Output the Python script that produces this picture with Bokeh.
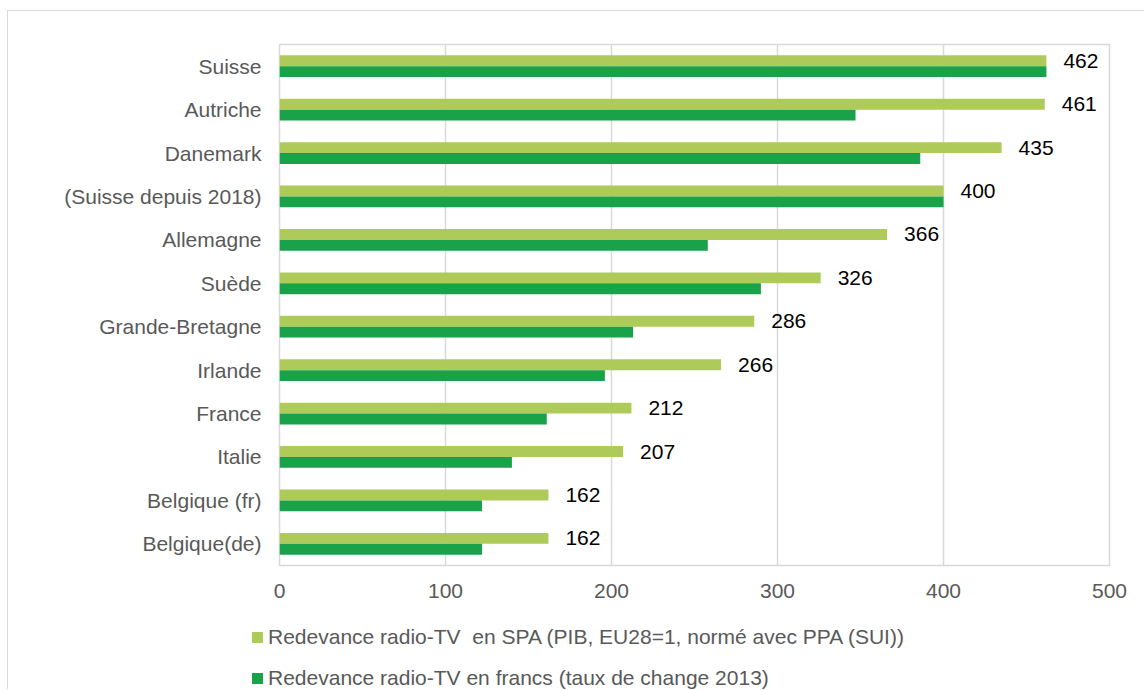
import html
from bokeh.plotting import figure
from bokeh.layouts import column
from bokeh.models import ColumnDataSource, FactorRange, Range1d, FixedTicker, Div
from bokeh.transform import dodge
from bokeh.core.properties import value
from bokeh.embed import file_html
from bokeh.resources import INLINE

countries = ["Suisse", "Autriche", "Danemark", "(Suisse depuis 2018)", "Allemagne", "Suède",
             "Grande-Bretagne", "Irlande", "France", "Italie", "Belgique (fr)", "Belgique(de)"]
spa_values = [462, 461, 435, 400, 366, 326, 286, 266, 212, 207, 162, 162]
chf_values = [462, 347, 386, 400, 258, 290, 213, 196, 161, 140, 122, 122]
x_ticks = [0, 100, 200, 300, 400, 500]
series_names = ["Redevance radio-TV  en SPA (PIB, EU28=1, normé avec PPA (SUI))",
                "Redevance radio-TV en francs (taux de change 2013)"]

LIGHT = "#AECB5A"
DARK = "#19A249"
series_colors = [LIGHT, DARK]
GRAY_TXT = "#595959"
GRID = "#D9D9D9"
FONT = "Liberation Sans"

src = ColumnDataSource(dict(cat=countries, spa=spa_values, chf=chf_values,
                            lbl=[str(v) for v in spa_values]))

# ---- main chart ----
p = figure(width=1136, height=599, y_range=FactorRange(factors=countries[::-1]),
           x_range=Range1d(0, 500), output_backend="svg", toolbar_location=None,
           min_border_left=271, min_border_right=35, min_border_top=33, min_border_bottom=45)

p.hbar(y=dodge("cat", 0.125, range=p.y_range), right="spa", left=0, height=0.25,
       source=src, fill_color=LIGHT, line_color=None)
p.hbar(y=dodge("cat", -0.125, range=p.y_range), right="chf", left=0, height=0.25,
       source=src, fill_color=DARK, line_color=None)
p.text(x="spa", y=dodge("cat", 0.125, range=p.y_range), text="lbl", source=src,
       x_offset=17, text_baseline="middle", text_align="left",
       text_font=value(FONT), text_font_size="21px", text_color="#000000")

p.outline_line_color = GRID
p.outline_line_width = 1.5
p.ygrid.grid_line_color = None
p.xgrid.grid_line_color = GRID
p.xgrid.grid_line_width = 1.5

p.xaxis.ticker = FixedTicker(ticks=x_ticks)
for ax in (p.xaxis[0], p.yaxis[0]):
    ax.axis_line_color = None
    ax.major_tick_line_color = None
    ax.minor_tick_line_color = None
    ax.major_tick_out = 0
    ax.major_tick_in = 0
    ax.major_label_text_font = FONT
    ax.major_label_text_font_size = "21px"
    ax.major_label_text_color = GRAY_TXT
p.yaxis.major_label_standoff = 18
p.xaxis.major_label_standoff = 18

# ---- legend (HTML text) ----
rows = []
for name, col in zip(series_names, series_colors):
    txt = html.escape(name).replace("  ", "&nbsp; ")
    rows.append(
        f'<div style="height:41px;line-height:41px;white-space:nowrap;">'
        f'<span style="display:inline-block;width:11px;height:11px;background:{col};'
        f'margin-right:5px;vertical-align:middle;position:relative;top:-1px;"></span>{txt}</div>'
    )
legend_html = (f'<div style="padding-left:244px;padding-top:6px;font-family:\'{FONT}\';'
               f'font-size:21px;color:{GRAY_TXT};">' + "".join(rows) + "</div>")
leg = Div(text=legend_html, width=1136, height=79, margin=0)

layout = column(p, leg, spacing=0, margin=(10, 0, 0, 7),
                styles={"border-top": f"1px solid {GRID}", "border-left": f"1px solid {GRID}"})
open("out.html", "w").write(file_html(layout, INLINE))
